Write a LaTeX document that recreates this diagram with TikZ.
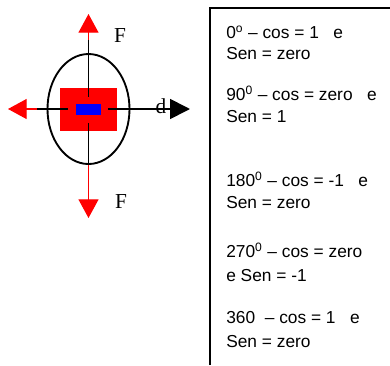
\documentclass[tikz,border=0pt]{standalone}
\usepackage{fontspec}
\setmainfont{Liberation Sans}
\newfontfamily\serifF{Liberation Serif}
\usetikzlibrary{arrows.meta,shapes.geometric}

\begin{document}
\begin{tikzpicture}[x=0.75pt, y=-0.75pt,
  forca/.style={red, line width=0.9pt, -{Triangle[length=14pt, width=15pt]}},
  eixo/.style={black, line width=1.3pt},
  rotulo/.style={font=\serifF\fontsize{16}{18}\selectfont, inner sep=0pt},
  linha/.style={font=\fontsize{13}{15}\selectfont, inner sep=0pt, anchor=base west},
]
\useasboundingbox (0,0) rectangle (390,365);
% ---------------- corpo e forcas ----------------
\coordinate (ctr) at (88.5,109);
\coordinate (tipN) at (88.5,14);
\coordinate (tipS) at (88.5,218);
\coordinate (tipW) at (8,109);
\coordinate (tipE) at (190,109);

\draw[forca] (ctr) -- (tipN);
\draw[forca] (ctr) -- (tipS);
\draw[forca] (ctr) -- (tipW);

\node[fill=red, minimum width=42.75pt, minimum height=32.25pt, inner sep=0pt] (bloco) at (ctr) {};
\node[fill=blue, minimum width=18.75pt, minimum height=8.25pt, inner sep=0pt] (nucleo) at (ctr) {};
\node[draw, ellipse, line width=1.4pt, minimum width=61.5pt, minimum height=82.5pt, inner sep=0pt] (corpo) at (ctr) {};

% eixos pretos
\coordinate (nA) at (88.5,40);
\coordinate (nB) at (88.5,97);
\coordinate (sA) at (88.5,123);
\coordinate (wA) at (37,109);
\coordinate (wB) at (68,109);
\coordinate (eA) at (108,109);
\draw[eixo] (nA) -- (nB);
\draw[eixo] (sA) -- (corpo.south);
\draw[eixo] (wA) -- (wB);
\draw[eixo, -{Triangle[length=15pt, width=15pt]}] (eA) -- (tipE);

\node[rotulo] (fN) at (120,36) {F};
\node[rotulo] (fS) at (121,202) {F};
\node[rotulo] (dE) at (161,106) {d};

% ---------------- quadro de valores ----------------
\coordinate (qA) at (210,365);
\coordinate (qB) at (210,8);
\coordinate (qC) at (390,8);
\draw[line width=1.2pt] (qA) -- (qB) -- (qC);

\node[linha] (t1a) at (226,38)  {0\textsuperscript{o} -- cos = 1\ \ \ e};
\node[linha] (t1b) at (226,59)  {Sen = zero};
\node[linha] (t2a) at (226,100) {90\textsuperscript{0} -- cos = zero\ \ \ e};
\node[linha] (t2b) at (226,122) {Sen = 1};
\node[linha] (t3a) at (226,186) {180\textsuperscript{0} -- cos = -1\ \ \ e};
\node[linha] (t3b) at (226,208) {Sen = zero};
\node[linha] (t4a) at (226,257) {270\textsuperscript{0} -- cos = zero};
\node[linha] (t4b) at (226,281) {e Sen = -1};
\node[linha] (t5a) at (226,323) {360\ \ -- cos = 1\ \ \ e};
\node[linha] (t5b) at (226,347) {Sen = zero};
\end{tikzpicture}
\end{document}
